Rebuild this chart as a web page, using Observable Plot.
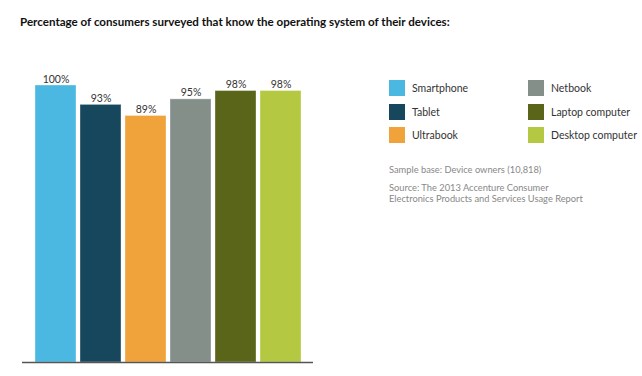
<!DOCTYPE html>
<html>
<head>
<meta charset="utf-8">
<script src="https://cdn.jsdelivr.net/npm/d3@7"></script>
<script src="https://cdn.jsdelivr.net/npm/@observablehq/plot@0.6"></script>
<style>
  html, body { margin: 0; padding: 0; background: #fff; }
  #wrap { position: relative; width: 642px; height: 376px; overflow: hidden; font-family: Lato, "Open Sans", sans-serif; }
  #title { position: absolute; left: 20px; top: 15px; font-size: 11.6px; font-weight: bold; color: #111; white-space: nowrap; }
  #chart { position: absolute; left: 0; top: 40px; }
  #legend { position: absolute; left: 389px; top: 80px; display: grid; grid-template-columns: 139px 110px; grid-auto-flow: column; grid-template-rows: repeat(3, 23.5px); }
  .item { display: flex; align-items: flex-start; font-size: 10.5px; color: #333; white-space: nowrap; }
  .sw { width: 16px; height: 16px; margin-right: 7px; flex: none; }
  .item span { line-height: 16px; }
  #notes { position: absolute; left: 389px; top: 164px; font-size: 9.3px; color: #888; line-height: 11px; }
  #notes div { margin-bottom: 7px; }
</style>
</head>
<body>
<div id="wrap">
  <div id="title"></div>
  <div id="chart"></div>
  <div id="legend"></div>
  <div id="notes"></div>
</div>
<script>
const titleText = "Percentage of consumers surveyed that know the operating system of their devices:";
const devices = ["Smartphone", "Tablet", "Ultrabook", "Netbook", "Laptop computer", "Desktop computer"];
const shares = [100, 93, 89, 95, 98, 98];
const colors = ["#4ab8e1", "#17475d", "#f0a33b", "#848f8a", "#5a6519", "#b5c842"];
const notes = ["Sample base: Device owners (10,818)", "Source: The 2013 Accenture Consumer<br>Electronics Products and Services Usage Report"];

const data = devices.map((d, i) => ({device: d, share: shares[i]}));

document.getElementById("title").textContent = titleText;

const chart = Plot.plot({
  width: 642,
  height: 336,
  marginLeft: 22,
  marginRight: 329,
  marginTop: 45,
  marginBottom: 14,
  style: {fontFamily: "Lato, 'Open Sans', sans-serif", fontSize: "10px", color: "#333", background: "transparent"},
  x: {domain: devices, paddingInner: 0.096, paddingOuter: 0.218, axis: null},
  y: {domain: [0, 100], axis: null},
  color: {domain: devices, range: colors},
  marks: [
    Plot.barY(data, {x: "device", y: "share", fill: "device", stroke: "#ffffff", strokeOpacity: 0.35, strokeWidth: 1}),
    Plot.text(data, {x: "device", y: "share", text: d => d.share + "%", lineAnchor: "bottom", dy: -3, fill: "#333", fontSize: 10.5}),
    Plot.ruleY([0], {stroke: "#555", strokeWidth: 1.5})
  ]
});
document.getElementById("chart").appendChild(chart);

const legend = document.getElementById("legend");
devices.forEach((d, i) => {
  const item = document.createElement("div");
  item.className = "item";
  item.innerHTML = `<div class="sw" style="background:${colors[i]}"></div><span>${d}</span>`;
  legend.appendChild(item);
});

const notesEl = document.getElementById("notes");
notes.forEach(n => {
  const div = document.createElement("div");
  div.innerHTML = n;
  notesEl.appendChild(div);
});
</script>
</body>
</html>
